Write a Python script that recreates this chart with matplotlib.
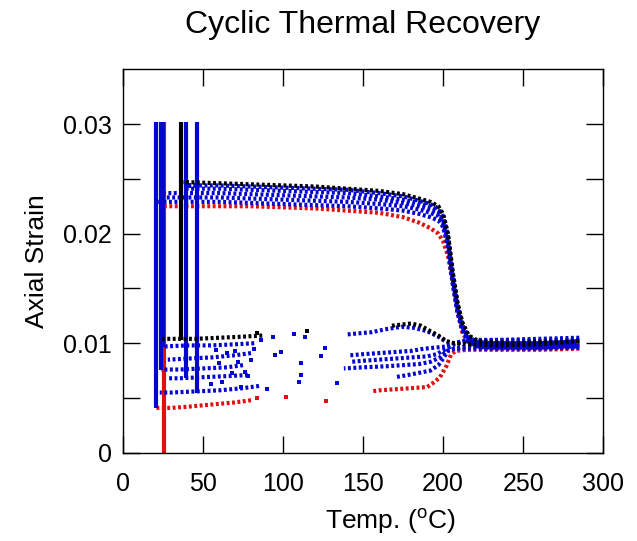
import matplotlib.pyplot as plt

plt.rcParams['font.family'] = ['Liberation Sans', 'DejaVu Sans']
plt.rcParams['mathtext.fontset'] = 'custom'
plt.rcParams['mathtext.rm'] = 'Liberation Sans'

RED = '#e01010'
BLUE = '#0505d0'
BLACK = '#000000'

# room-temperature loading (vertical lines): temperature, lowest strain
load_T = [25.6, 20.4, 23.5, 25.0, 39.2, 46.0, 36.0]
load_lo = [0.0, 0.0041, 0.0076, 0.0097, 0.0068, 0.0055, 0.0103]
load_hi = 0.0302
load_colors = [RED, BLUE, BLUE, BLUE, BLUE, BLUE, BLACK]

# heating after unloading (upper branch -> transformation -> flat)
heat_T = [40, 60, 80, 100, 120, 140, 160, 175, 185, 192, 197, 200, 203,
          206, 209, 212, 216, 222, 230, 245, 260, 275, 285]
heat_red = [0.0225, 0.0225, 0.0225, 0.0224, 0.0223, 0.0221, 0.0219, 0.0215,
            0.0210, 0.0205, 0.0200, 0.0193, 0.0180, 0.0155, 0.0128, 0.0110,
            0.0099, 0.0096, 0.0095, 0.0095, 0.0095, 0.0096, 0.0096]
heat_blue1 = [0.0229, 0.0229, 0.0228, 0.0227, 0.0226, 0.0225, 0.0223, 0.0221,
              0.0218, 0.0215, 0.0212, 0.0206, 0.0188, 0.0154, 0.0128, 0.0112,
              0.0101, 0.0097, 0.0096, 0.0096, 0.0096, 0.0097, 0.0097]
heat_blue2 = [0.0233, 0.0233, 0.0232, 0.0231, 0.0230, 0.0229, 0.0227, 0.0225,
              0.0222, 0.0219, 0.0216, 0.0209, 0.0191, 0.0156, 0.0130, 0.0113,
              0.0102, 0.0098, 0.0097, 0.0097, 0.0097, 0.0098, 0.0098]
heat_blue3 = [0.0237, 0.0237, 0.0236, 0.0235, 0.0234, 0.0233, 0.0231, 0.0228,
              0.0225, 0.0222, 0.0219, 0.0211, 0.0194, 0.0159, 0.0132, 0.0115,
              0.0103, 0.0099, 0.0098, 0.0098, 0.0097, 0.0098, 0.0099]
heat_blue4 = [0.0241, 0.0241, 0.0240, 0.0239, 0.0238, 0.0237, 0.0234, 0.0231,
              0.0228, 0.0225, 0.0221, 0.0214, 0.0196, 0.0161, 0.0134, 0.0116,
              0.0104, 0.0100, 0.0099, 0.0099, 0.0098, 0.0099, 0.0100]
heat_blue5 = [0.0244, 0.0244, 0.0243, 0.0242, 0.0241, 0.0240, 0.0237, 0.0234,
              0.0230, 0.0227, 0.0223, 0.0216, 0.0198, 0.0163, 0.0135, 0.0117,
              0.0105, 0.0101, 0.0100, 0.0100, 0.0100, 0.0101, 0.0102]
heat_black = [0.0247, 0.0246, 0.0245, 0.0244, 0.0243, 0.0241, 0.0239, 0.0236,
              0.0232, 0.0229, 0.0225, 0.0218, 0.0200, 0.0165, 0.0137, 0.0119,
              0.0107, 0.0102, 0.0101, 0.0100, 0.0101, 0.0101, 0.0102]
heat_start = [25.6, 22.0, 24.0, 25.0, 39.2, 46.0, 36.0]

# cooling back from 285 C (high-temperature part)
cool_T_red = [285, 260, 235, 215, 208, 205, 202, 198, 194, 190, 180, 170, 160, 155]
cool_red = [0.0095, 0.0094, 0.0094, 0.0094, 0.0093, 0.0090, 0.0079, 0.0069,
            0.0064, 0.0060, 0.0059, 0.0058, 0.0057, 0.0056]
cool_T_b1 = [285, 260, 235, 215, 207, 203, 200, 197, 192, 185, 178, 170]
cool_b1 = [0.0096, 0.0095, 0.0095, 0.0095, 0.0095, 0.0093, 0.0086, 0.0080,
           0.0075, 0.0073, 0.0071, 0.0069]
cool_T_b2 = [285, 260, 235, 215, 207, 202, 198, 192, 185, 175, 165, 150, 138]
cool_b2 = [0.0098, 0.0097, 0.0097, 0.0097, 0.0095, 0.0093, 0.0087, 0.0083,
           0.0081, 0.0080, 0.0079, 0.0078, 0.0077]
cool_T_b3 = [285, 260, 235, 215, 207, 202, 196, 190, 180, 170, 160, 150, 142]
cool_b3 = [0.0103, 0.0102, 0.0102, 0.0102, 0.0099, 0.0095, 0.0090, 0.0088,
           0.0087, 0.0086, 0.0085, 0.0084, 0.0083]
cool_T_b4 = [285, 260, 235, 215, 207, 202, 195, 188, 180, 170, 160, 150, 142]
cool_b4 = [0.0105, 0.0104, 0.0103, 0.0103, 0.0100, 0.0097, 0.0096, 0.0095,
           0.0093, 0.0092, 0.0091, 0.0090, 0.0089]
cool_T_b5 = [285, 260, 235, 215, 207, 202, 197, 190, 182, 174, 165, 155, 147, 140]
cool_b5 = [0.0103, 0.0102, 0.0103, 0.0102, 0.0100, 0.0101, 0.0106, 0.0111,
           0.0114, 0.0115, 0.0113, 0.0110, 0.0109, 0.0108]
cool_T_k = [285, 260, 235, 215, 207, 202, 197, 192, 186, 180, 174, 168]
cool_k = [0.0102, 0.0099, 0.0098, 0.0099, 0.0100, 0.0102, 0.0107, 0.0111,
          0.0116, 0.0118, 0.0117, 0.0116]

# sparse readings during fast cooling (80-140 C)
sparse_T_red = [127, 102, 84]
sparse_red = [0.0047, 0.0051, 0.0050]
sparse_T_blue = [134, 111, 110, 90, 78, 124, 111, 126, 99, 95, 114, 107, 94, 86,
                 82, 70, 65, 58, 72, 60, 76, 68, 62, 55, 80, 74]
sparse_blue = [0.0064, 0.0071, 0.0065, 0.0058, 0.0070, 0.0088, 0.0082, 0.0096,
               0.0092, 0.0089, 0.0106, 0.0108, 0.0106, 0.0103,
               0.0095, 0.0093, 0.0091, 0.0094, 0.0083, 0.0082, 0.0074, 0.0073,
               0.0065, 0.0063, 0.0085, 0.0060]
sparse_T_k = [115, 84]
sparse_k = [0.0111, 0.0109]

# low-temperature end of cooling
low_T_red = [80, 70, 55, 40, 30, 20.5]
low_red = [0.0048, 0.0046, 0.0044, 0.0042, 0.0041, 0.0041]
low_T_b1 = [85, 75, 60, 45, 30, 23]
low_b1 = [0.0061, 0.0059, 0.0057, 0.0056, 0.0055, 0.0055]
low_T_b2 = [78, 65, 50, 35, 28]
low_b2 = [0.0071, 0.0070, 0.0069, 0.0068, 0.0068]
low_T_b3 = [75, 65, 50, 35, 24]
low_b3 = [0.0080, 0.0078, 0.0077, 0.0076, 0.0076]
low_T_b4 = [80, 70, 55, 40, 28]
low_b4 = [0.0091, 0.0089, 0.0087, 0.0086, 0.0085]
low_T_b5 = [82, 70, 55, 40, 25]
low_b5 = [0.0100, 0.0099, 0.0098, 0.0098, 0.0097]
low_T_k = [87, 75, 60, 45, 30, 24]
low_k = [0.0107, 0.0106, 0.0105, 0.0104, 0.0104, 0.0104]

fig = plt.figure(figsize=(6.37, 5.41), dpi=100)
ax = fig.add_axes([0.193, 0.163, 0.754, 0.709])

dots = (0, (0.7, 0.6))
kw = dict(linestyle=dots, linewidth=3.0, dash_capstyle='butt')

heats = [(heat_red, RED), (heat_blue1, BLUE), (heat_blue2, BLUE), (heat_blue3, BLUE),
         (heat_blue4, BLUE), (heat_blue5, BLUE), (heat_black, BLACK)]
cools = [(cool_T_red, cool_red, RED), (cool_T_b1, cool_b1, BLUE), (cool_T_b2, cool_b2, BLUE),
         (cool_T_b3, cool_b3, BLUE), (cool_T_b4, cool_b4, BLUE), (cool_T_b5, cool_b5, BLUE),
         (cool_T_k, cool_k, BLACK)]
lows = [(low_T_red, low_red, RED), (low_T_b1, low_b1, BLUE), (low_T_b2, low_b2, BLUE),
        (low_T_b3, low_b3, BLUE), (low_T_b4, low_b4, BLUE), (low_T_b5, low_b5, BLUE),
        (low_T_k, low_k, BLACK)]

for i in range(7):
    ax.plot([load_T[i], load_T[i]], [load_lo[i], load_hi], color=load_colors[i], lw=3.0,
            solid_capstyle='butt')
    vals, c = heats[i]
    ax.plot([heat_start[i]] + heat_T, [vals[0]] + vals, color=c, **kw)
    t, v, c = cools[i]
    ax.plot(t, v, color=c, **kw)
    t, v, c = lows[i]
    ax.plot(t, v, color=c, **kw)

ax.scatter(sparse_T_red, sparse_red, s=7, marker='s', color=RED, lw=0)
ax.scatter(sparse_T_blue, sparse_blue, s=7, marker='s', color=BLUE, lw=0)
ax.scatter(sparse_T_k, sparse_k, s=7, marker='s', color=BLACK, lw=0)

ax.set_xlim(0, 300)
ax.set_ylim(0, 0.035)
ax.set_xticks([0, 50, 100, 150, 200, 250, 300])
ax.set_yticks([0, 0.01, 0.02, 0.03])
ax.set_yticklabels(['0', '0.01', '0.02', '0.03'])
ax.set_yticks([0.005, 0.015, 0.025], minor=True)
ax.tick_params(which='both', direction='in', top=True, right=True, length=12,
               width=1, labelsize=18, pad=8)
ax.tick_params(axis='x', pad=14)
for s in ax.spines.values():
    s.set_linewidth(1)

ax.set_xlabel('Temp. ($^\\mathregular{o}$C)', fontsize=19, labelpad=6)
ax.xaxis.set_label_coords(0.556, -0.14)
ax.set_ylabel('Axial Strain', fontsize=19, labelpad=10)
ax.set_title('Cyclic Thermal Recovery', fontsize=23, pad=26)

fig.savefig('out.png', dpi=100)
